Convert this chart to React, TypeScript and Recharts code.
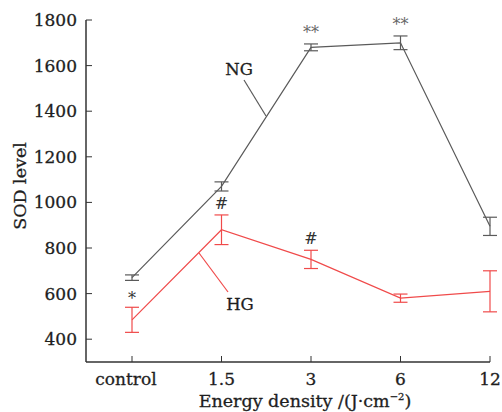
import { LineChart, Line, XAxis, YAxis, ErrorBar, LabelList, Customized } from 'recharts';

const categories = ['control', '1.5', '3', '6', '12'];
const ngValues = [670, 1070, 1680, 1700, 895];
const ngErrors = [12, 20, 15, 30, 40];
const hgValues = [485, 880, 750, 580, 610];
const hgErrors = [55, 65, 40, 18, 90];
const ngMarks = ['', '', '**', '**', ''];
const hgMarks = ['*', '#', '#', '', ''];
const yTicks = [400, 600, 800, 1000, 1200, 1400, 1600, 1800];

// top of each error bar, used to hang the significance marks
const data = categories.map((cat, i) => ({
  cat,
  ng: ngValues[i],
  ngErr: ngErrors[i],
  ngTop: ngValues[i] + ngErrors[i],
  hg: hgValues[i],
  hgErr: hgErrors[i],
  hgTop: hgValues[i] + hgErrors[i],
}));

const FONT = '"DejaVu Serif", serif';
const NG_COLOR = '#5a5a5a';
const HG_COLOR = '#f04a4a';
const AXIS_COLOR = '#333';
const TEXT = '#1e1e1e';

const markLift: Record<string, number> = { '*': 3, '**': 6, '#': 6 };

const markLabel = (marks: string[], color: string) => (props: any) => {
  const { x, y, index } = props;
  const m = marks[index];
  if (!m) return null;
  return (
    <text x={x} y={y - markLift[m]} textAnchor="middle" fontFamily={FONT} fontSize={16} fill={color}>
      {m}
    </text>
  );
};

function Annotations() {
  return (
    <g fontFamily={FONT} fill={TEXT} stroke={TEXT} strokeWidth={0.3}>
      <text x={20} y={186} fontSize={17.5} textAnchor="middle" dominantBaseline="central" transform="rotate(-90, 20, 186)">
        SOD level
      </text>
      <text x={305} y={407} fontSize={17.5} textAnchor="middle">
        Energy density /(J·cm<tspan fontSize={10} dy={-7}>−2</tspan>
        <tspan dy={7}>)</tspan>
      </text>
      <text x={239} y={75} fontSize={16.5} textAnchor="middle">NG</text>
      <text x={240} y={310} fontSize={16.5} textAnchor="middle">HG</text>
      <line x1={244} y1={80} x2={266} y2={116} stroke={NG_COLOR} strokeWidth={1.2} />
      <line x1={228} y1={292} x2={199} y2={253} stroke={HG_COLOR} strokeWidth={1.2} />
    </g>
  );
}

const tickStyle = { fontFamily: FONT, fontSize: 17, fill: TEXT, stroke: TEXT, strokeWidth: 0.3 };

// the "control" label sits a little left of its tick in the original
const XTick = (props: any) => {
  const { x, y, payload, index } = props;
  return (
    <text x={x + (index === 0 ? -6 : 0)} y={y} dy="0.71em" textAnchor="middle" {...tickStyle}>
      {payload.value}
    </text>
  );
};

export default function App() {
  return (
    <div style={{ position: 'absolute', left: 0, top: 0, background: '#fff' }}>
      <LineChart width={502} height={412} data={data} margin={{ top: 20, right: 12, left: 0, bottom: 0 }}>
        <XAxis
          dataKey="cat"
          padding={{ left: 46, right: 0 }}
          height={50}
          tickSize={-6}
          tickMargin={17}
          stroke={AXIS_COLOR}
          axisLine={{ stroke: AXIS_COLOR, strokeWidth: 1.5 }}
          tickLine={{ stroke: AXIS_COLOR }}
          tick={<XTick />}
        />
        <YAxis
          domain={[300, 1800]}
          ticks={yTicks}
          width={86}
          tickSize={-6}
          tickMargin={15}
          stroke={AXIS_COLOR}
          axisLine={{ stroke: AXIS_COLOR, strokeWidth: 1.5 }}
          tickLine={{ stroke: AXIS_COLOR }}
          tick={tickStyle}
        />
        <Line dataKey="ng" stroke={NG_COLOR} strokeWidth={1.2} dot={false} isAnimationActive={false}>
          <ErrorBar dataKey="ngErr" direction="y" width={7} stroke={NG_COLOR} strokeWidth={1.2} isAnimationActive={false} />
        </Line>
        <Line dataKey="hg" stroke={HG_COLOR} strokeWidth={1.2} dot={false} isAnimationActive={false}>
          <ErrorBar dataKey="hgErr" direction="y" width={7} stroke={HG_COLOR} strokeWidth={1.2} isAnimationActive={false} />
        </Line>
        <Line dataKey="ngTop" stroke="none" dot={false} activeDot={false} isAnimationActive={false}>
          <LabelList dataKey="ngTop" content={markLabel(ngMarks, '#666')} />
        </Line>
        <Line dataKey="hgTop" stroke="none" dot={false} activeDot={false} isAnimationActive={false}>
          <LabelList dataKey="hgTop" content={markLabel(hgMarks, '#333')} />
        </Line>
        <Customized component={<Annotations />} />
      </LineChart>
    </div>
  );
}
